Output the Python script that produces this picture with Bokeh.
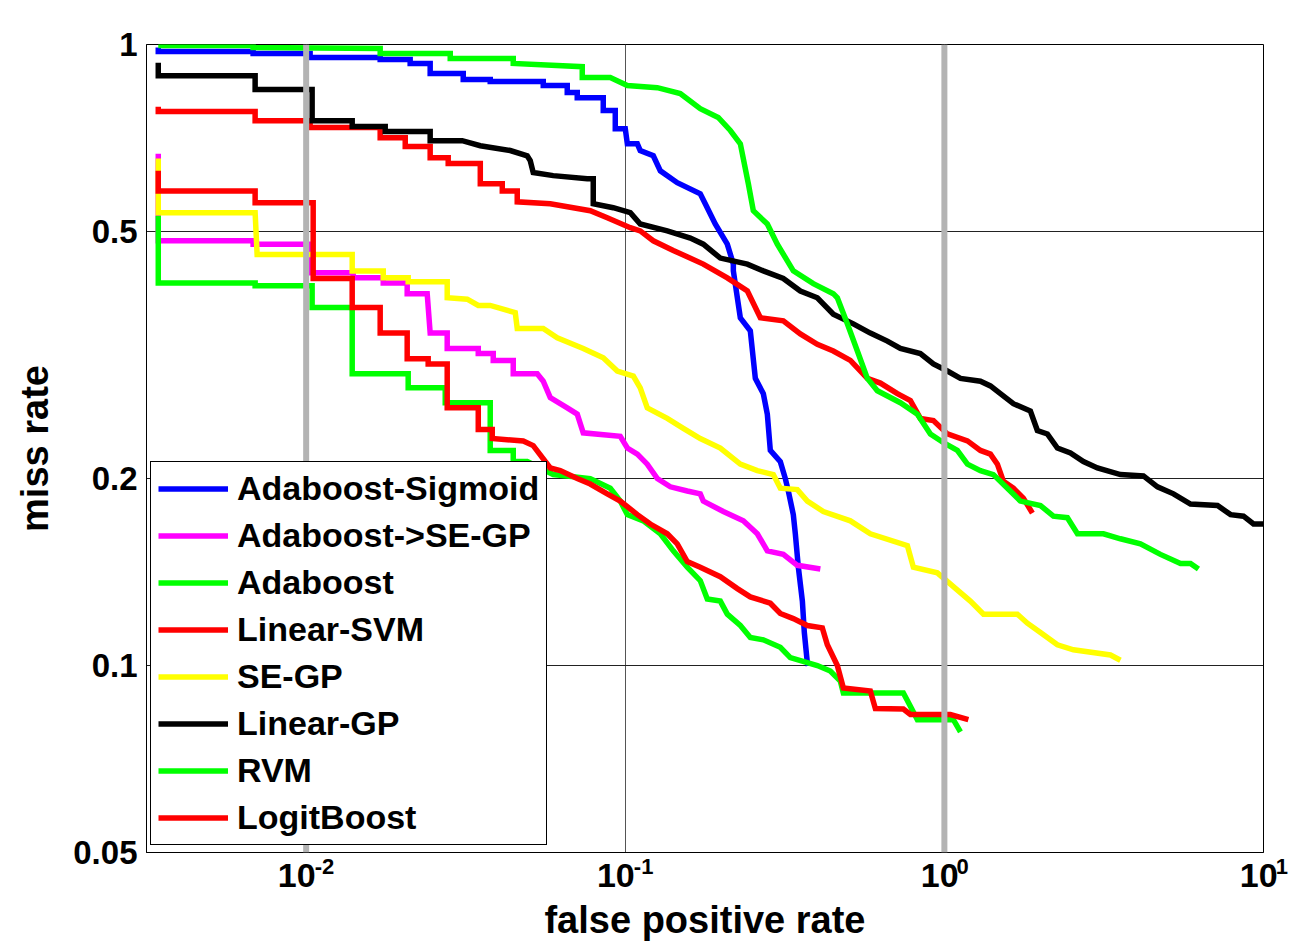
from bokeh.plotting import figure
from bokeh.models import FixedTicker, CustomJSTickFormatter, Span, Legend, LegendItem, Range1d, LogAxis
from bokeh.embed import file_html
from bokeh.resources import INLINE

# ---------------- data (false positive rate, miss rate) ----------------
series_names = ["Adaboost-Sigmoid", "Adaboost->SE-GP", "Adaboost", "Linear-SVM",
                "SE-GP", "Linear-GP", "RVM", "LogitBoost"]
series_colors = ["#0000ff", "#ff00ff", "#00ff00", "#ff0000",
                 "#ffff00", "#000000", "#00ff00", "#ff0000"]

fppi_ada_sigmoid = [0.00344, 0.00344, 0.00682, 0.00682, 0.01029, 0.01029, 0.01706, 0.01706, 0.02118, 0.02118,
                    0.02447, 0.02447, 0.03106, 0.03106, 0.03774, 0.03774, 0.05533, 0.05533, 0.06579, 0.06579,
                    0.07071, 0.07071, 0.08531, 0.08531, 0.09304, 0.09304, 0.1, 0.1015, 0.1091, 0.1114, 0.1224,
                    0.1288, 0.1455, 0.1718, 0.1781, 0.1914, 0.2088, 0.2181, 0.2181, 0.2294, 0.2465, 0.2556,
                    0.2708, 0.2787, 0.2848, 0.3061, 0.3174, 0.3243, 0.3362, 0.3411, 0.3486, 0.3589, 0.3640,
                    0.3720, 0.3747]
miss_ada_sigmoid = [0.989, 0.974, 0.974, 0.967, 0.967, 0.953, 0.953, 0.946, 0.946, 0.932,
                    0.932, 0.898, 0.898, 0.878, 0.878, 0.872, 0.872, 0.859, 0.859, 0.837,
                    0.837, 0.821, 0.821, 0.783, 0.783, 0.732, 0.732, 0.692, 0.692, 0.675, 0.662,
                    0.626, 0.599, 0.575, 0.554, 0.514, 0.477, 0.443, 0.432, 0.363, 0.346, 0.290,
                    0.274, 0.254, 0.222, 0.213, 0.200, 0.191, 0.175, 0.163, 0.144, 0.127, 0.113,
                    0.101, 0.100]

fppi_ada_segp = [0.00344, 0.00344, 0.00682, 0.00682, 0.01029, 0.01029, 0.01404, 0.01404, 0.01744, 0.01744,
                 0.02073, 0.02073, 0.02395, 0.02447, 0.02767, 0.02767, 0.03462, 0.03462, 0.03857, 0.03857,
                 0.04456, 0.04456, 0.05298, 0.05533, 0.05820, 0.06579, 0.07071, 0.07384, 0.09645, 0.1015,
                 0.1091, 0.1172, 0.1260, 0.1384, 0.1564, 0.1718, 0.1756, 0.2029, 0.2344, 0.2593, 0.2787,
                 0.3128, 0.3461, 0.4086]
miss_ada_segp = [0.667, 0.483, 0.483, 0.477, 0.477, 0.429, 0.429, 0.421, 0.421, 0.413,
                 0.413, 0.397, 0.397, 0.343, 0.343, 0.324, 0.324, 0.318, 0.318, 0.310,
                 0.310, 0.295, 0.295, 0.287, 0.270, 0.260, 0.254, 0.237, 0.234, 0.224,
                 0.219, 0.211, 0.200, 0.194, 0.191, 0.189, 0.184, 0.177, 0.171, 0.163, 0.153,
                 0.151, 0.145, 0.143]

fppi_adaboost = [0.00344, 0.00344, 0.00692, 0.00692, 0.01044, 0.01044, 0.01394, 0.01394, 0.02088, 0.02088,
                 0.02728, 0.02728, 0.03774, 0.03774, 0.04456, 0.04456, 0.04929, 0.05947, 0.07767, 0.08974,
                 0.09645, 0.1015, 0.1139, 0.1288, 0.1414, 0.1564, 0.1718, 0.1807, 0.1985, 0.2088, 0.2294,
                 0.2465, 0.2708, 0.3061, 0.3290, 0.3998, 0.4391, 0.4720, 0.4824, 0.7438, 0.7824, 0.8230,
                 1.067, 1.123]
miss_adaboost = [0.530, 0.413, 0.413, 0.409, 0.409, 0.377, 0.377, 0.295, 0.295, 0.280,
                 0.280, 0.265, 0.265, 0.222, 0.222, 0.213, 0.213, 0.203, 0.200, 0.193,
                 0.184, 0.175, 0.171, 0.163, 0.153, 0.144, 0.137, 0.128, 0.127, 0.121, 0.116,
                 0.111, 0.110, 0.107, 0.103, 0.100, 0.0980, 0.0944, 0.0903, 0.0903, 0.0860, 0.0818,
                 0.0818, 0.0782]

fppi_linear_svm = [0.00344, 0.00344, 0.00692, 0.00692, 0.01029, 0.01029, 0.01706, 0.01706, 0.02044, 0.02044,
                   0.02447, 0.02447, 0.02787, 0.02787, 0.03513, 0.03513, 0.04117, 0.04117, 0.04586, 0.04586,
                   0.05820, 0.07767, 0.08781, 0.1037, 0.1114, 0.1224, 0.1414, 0.1756, 0.2088, 0.2413,
                   0.2650, 0.3128, 0.3537, 0.3998, 0.4487, 0.5074, 0.5736, 0.6301, 0.7124, 0.7824, 0.8409,
                   0.9237, 1.022, 1.181, 1.297, 1.394, 1.466, 1.531, 1.645, 1.768, 1.887]
miss_linear_svm = [0.794, 0.780, 0.780, 0.754, 0.754, 0.735, 0.735, 0.708, 0.708, 0.685,
                   0.685, 0.657, 0.657, 0.643, 0.643, 0.597, 0.597, 0.581, 0.581, 0.558,
                   0.554, 0.540, 0.526, 0.507, 0.501, 0.483, 0.466, 0.443, 0.421, 0.401,
                   0.363, 0.359, 0.342, 0.329, 0.321, 0.310, 0.290, 0.285, 0.274, 0.267, 0.250,
                   0.248, 0.236, 0.230, 0.222, 0.219, 0.211, 0.198, 0.193, 0.186, 0.176]

fppi_se_gp = [0.00344, 0.00344, 0.00692, 0.00702, 0.01394, 0.01394, 0.01744, 0.01744, 0.02088, 0.02088,
              0.02767, 0.02767, 0.03197, 0.03462, 0.03774, 0.04521, 0.04586, 0.05533, 0.06120, 0.07384,
              0.08531, 0.09441, 0.1060, 0.1114, 0.1172, 0.1354, 0.1520, 0.1718, 0.1985, 0.2294, 0.2593,
              0.2910, 0.3061, 0.3461, 0.3720, 0.4175, 0.5074, 0.5861, 0.7656, 0.7995, 0.9506, 1.067,
              1.206, 1.326, 1.693, 1.820, 2.000, 2.260, 2.537, 3.314, 3.562]
miss_se_gp = [0.655, 0.536, 0.536, 0.459, 0.459, 0.432, 0.432, 0.421, 0.421, 0.415,
              0.415, 0.391, 0.389, 0.380, 0.380, 0.370, 0.349, 0.349, 0.337, 0.324,
              0.313, 0.298, 0.2925, 0.280, 0.260, 0.250, 0.241, 0.232, 0.224, 0.211, 0.206,
              0.203, 0.193, 0.192, 0.184, 0.177, 0.171, 0.163, 0.156, 0.144, 0.141, 0.134,
              0.127, 0.121, 0.121, 0.117, 0.113, 0.108, 0.106, 0.104, 0.102]

fppi_linear_gp = [0.00344, 0.00344, 0.00692, 0.00692, 0.01044, 0.01044, 0.01394, 0.01394, 0.01769, 0.01769,
                  0.02447, 0.02447, 0.03083, 0.03513, 0.04360, 0.04929, 0.05037, 0.05147, 0.05947, 0.07601,
                  0.07937, 0.07937, 0.09170, 0.1037, 0.1114, 0.1354, 0.1599, 0.1756, 0.1985, 0.2413, 0.2708,
                  0.3128, 0.3537, 0.3998, 0.4487, 0.5185, 0.5861, 0.6627, 0.7279, 0.8409, 0.9237, 1.022,
                  1.123, 1.297, 1.394, 1.498, 1.645, 1.860, 1.956, 2.103, 2.260, 2.483, 2.727, 3.017,
                  3.562, 4.205, 4.653, 5.224, 5.905, 7.177, 7.883, 8.657, 9.305, 10.0]
miss_linear_gp = [0.935, 0.891, 0.891, 0.846, 0.846, 0.754, 0.754, 0.738, 0.738, 0.724,
                  0.724, 0.700, 0.700, 0.687, 0.675, 0.662, 0.650, 0.622, 0.615, 0.608,
                  0.608, 0.554, 0.546, 0.536, 0.514, 0.501, 0.488, 0.477, 0.453, 0.443, 0.432,
                  0.420, 0.401, 0.391, 0.368, 0.355, 0.343, 0.333, 0.324, 0.318, 0.306, 0.298,
                  0.290, 0.287, 0.282, 0.274, 0.264, 0.257, 0.239, 0.236, 0.224, 0.220, 0.213, 0.208,
                  0.203, 0.202, 0.194, 0.189, 0.182, 0.181, 0.175, 0.174, 0.169, 0.169]

fppi_rvm = [0.00344, 0.00682, 0.00682, 0.01706, 0.01706, 0.02828, 0.02828, 0.04456, 0.04456, 0.07331,
            0.07331, 0.08974, 0.1015, 0.1260, 0.1487, 0.1718, 0.1956, 0.2134, 0.2294, 0.2430, 0.2519,
            0.2787, 0.2995, 0.3362, 0.3884, 0.4487, 0.4619, 0.4965, 0.5337, 0.5736, 0.6166, 0.7279,
            0.8230, 0.9040, 1.0, 1.098, 1.181, 1.297, 1.424, 1.576, 1.730, 2.000, 2.196, 2.429,
            2.612, 3.151, 3.562, 4.115, 4.754, 5.494, 5.905, 6.254]
miss_rvm = [0.996, 0.996, 0.989, 0.985, 0.967, 0.967, 0.949, 0.949, 0.932, 0.921,
            0.885, 0.885, 0.859, 0.852, 0.834, 0.788, 0.763, 0.727, 0.692, 0.597, 0.540,
            0.514, 0.477, 0.432, 0.412, 0.397, 0.391, 0.355, 0.321, 0.290, 0.277, 0.265,
            0.254, 0.236, 0.228, 0.222, 0.211, 0.206, 0.203, 0.193, 0.184, 0.181, 0.174, 0.173,
            0.163, 0.163, 0.160, 0.157, 0.151, 0.146, 0.146, 0.143]

fppi_logitboost = [0.00344, 0.00344, 0.00692, 0.00692, 0.01052, 0.01052, 0.01394, 0.01394, 0.01706, 0.01706,
                   0.02073, 0.02073, 0.02412, 0.02412, 0.02767, 0.02767, 0.03462, 0.03462, 0.03829, 0.03829,
                   0.04789, 0.05147, 0.05820, 0.06255, 0.07071, 0.07767, 0.08781, 0.09645, 0.1091, 0.1198,
                   0.1354, 0.1455, 0.1564, 0.1718, 0.1985, 0.2245, 0.2465, 0.2848, 0.3061, 0.3362, 0.3720,
                   0.4145, 0.4297, 0.4619, 0.4824, 0.5861, 0.6077, 0.7438, 0.7824, 1.044, 1.189]
miss_logitboost = [0.626, 0.581, 0.581, 0.556, 0.556, 0.420, 0.420, 0.377, 0.377, 0.343,
                   0.343, 0.312, 0.312, 0.306, 0.306, 0.260, 0.260, 0.240, 0.240, 0.232,
                   0.230, 0.226, 0.208, 0.206, 0.200, 0.196, 0.189, 0.184, 0.175, 0.169,
                   0.163, 0.157, 0.147, 0.144, 0.139, 0.133, 0.129, 0.126, 0.1213, 0.119, 0.116,
                   0.115, 0.108, 0.100, 0.0920, 0.0910, 0.0853, 0.0851, 0.0834, 0.0834, 0.0818]

series_x = [fppi_ada_sigmoid, fppi_ada_segp, fppi_adaboost, fppi_linear_svm,
            fppi_se_gp, fppi_linear_gp, fppi_rvm, fppi_logitboost]
series_y = [miss_ada_sigmoid, miss_ada_segp, miss_adaboost, miss_linear_svm,
            miss_se_gp, miss_linear_gp, miss_rvm, miss_logitboost]

x_ticks = [0.01, 0.1, 1, 10]
y_ticks = [0.05, 0.1, 0.2, 0.5, 1]
reference_fppi = [0.01, 1.0]
x_limits = (0.00316, 10)
y_limits = (0.05, 1)
x_title = "false positive rate"
y_title = "miss rate"

# ---------------- figure ----------------
FONT = "Liberation Sans"
p = figure(width=1291, height=943, x_axis_type="log", y_axis_type="log",
           x_range=Range1d(*x_limits), y_range=Range1d(*y_limits),
           output_backend="svg", toolbar_location=None,
           min_border_left=146, min_border_right=28, min_border_top=44, min_border_bottom=91)
p.background_fill_color = "white"
p.border_fill_color = "white"
p.outline_line_color = "black"
p.outline_line_width = 1
p.outline_line_alpha = 1

p.xgrid.ticker = FixedTicker(ticks=x_ticks, minor_ticks=[])
p.ygrid.ticker = FixedTicker(ticks=y_ticks, minor_ticks=[])
p.xgrid.grid_line_color = "#555555"
p.ygrid.grid_line_color = "#222222"
p.xgrid.grid_line_width = 1
p.ygrid.grid_line_width = 1


def style_axis(ax, size):
    ax.axis_line_color = "black"
    ax.major_tick_in = 0
    ax.major_tick_out = 0
    ax.minor_tick_in = 0
    ax.minor_tick_out = 0
    ax.major_label_text_font = FONT
    ax.major_label_text_font_style = "bold"
    ax.major_label_text_font_size = size
    ax.major_label_text_color = "black"
    ax.axis_label_text_font = FONT
    ax.axis_label_text_font_style = "bold"
    ax.axis_label_text_font_size = "38px"
    ax.axis_label_text_color = "black"


# y axis
yax = p.yaxis[0]
yax.ticker = FixedTicker(ticks=y_ticks, minor_ticks=[])
yax.formatter = CustomJSTickFormatter(code="return String(tick);")
style_axis(yax, "33px")
yax.axis_label = y_title
yax.major_label_standoff = 9
yax.axis_label_standoff = 14

# x axis, row 1: exponents (superscripts), shifted right of the tick
xexp = p.xaxis[0]
xexp.ticker = FixedTicker(ticks=x_ticks, minor_ticks=[])
xexp.formatter = CustomJSTickFormatter(code="""
const e = Math.round(Math.log10(tick));
return "\\u00a0".repeat(6) + String(e);
""")
style_axis(xexp, "22px")
xexp.major_label_standoff = 1

# x axis, row 2: the base "10", shifted left of the tick, plus the axis title
xbase = LogAxis(ticker=FixedTicker(ticks=x_ticks, minor_ticks=[]),
                formatter=CustomJSTickFormatter(code="""
const e = String(Math.round(Math.log10(tick)));
return "10" + "\\u00a0".repeat(e.length > 1 ? 2 : 1);
"""))
style_axis(xbase, "34px")
xbase.axis_line_color = None
xbase.major_label_standoff = -26
xbase.axis_label = x_title
xbase.axis_label_standoff = 2
p.add_layout(xbase, "below")

renderers = []
for xs, ys, col in zip(series_x, series_y, series_colors):
    r = p.line(xs, ys, line_color=col, line_width=5.5, line_join="miter")
    renderers.append(r)

for v in reference_fppi:
    p.add_layout(Span(location=v, dimension="height", line_color="#b3b3b3", line_width=6))

legend = Legend(items=[LegendItem(label=n, renderers=[r]) for n, r in zip(series_names, renderers)],
                location=(4, 7), margin=0, padding=7, spacing=8,
                glyph_width=70, glyph_height=39, label_height=39, label_standoff=9,
                label_text_font=FONT, label_text_font_style="bold", label_text_font_size="34px",
                label_text_color="black",
                border_line_color="black", border_line_width=1, border_line_alpha=1,
                background_fill_color="white", background_fill_alpha=1)
p.add_layout(legend)

open("out.html", "w").write(file_html(p, INLINE))
